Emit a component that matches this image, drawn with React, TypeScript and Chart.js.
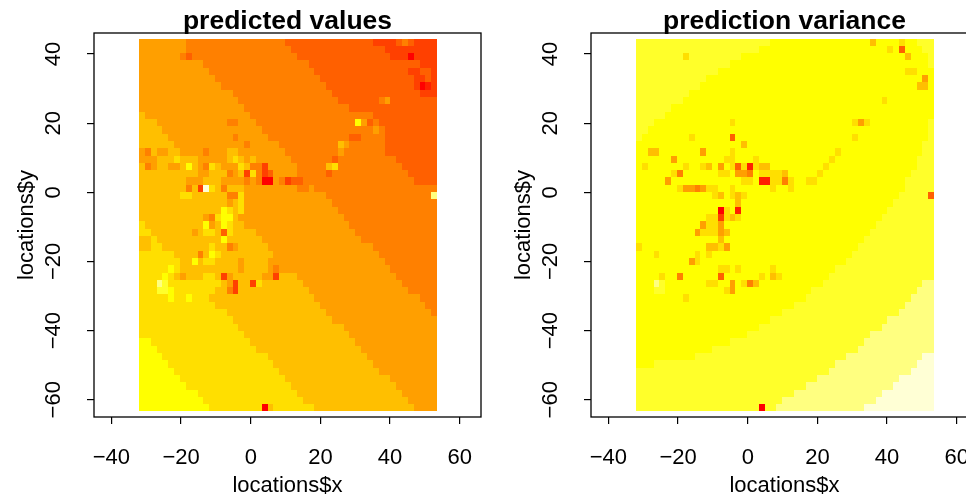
import React, { useEffect, useRef } from "react";
import { Chart, registerables } from "chart.js";

Chart.register(...registerables);

// R heat.colors(12): level index -> colour
const heatColors = ["#FF0000", "#FF2000", "#FF4000", "#FF6000", "#FF8000", "#FF9F00", "#FFBF00", "#FFDF00", "#FFFF00", "#FFFF2A", "#FFFF80", "#FFFFD5"];

// Grid of the kriging surface (51 x 51 cells)
const gridXMin = -32.06;
const gridXMax = 53.5;
const gridYMax = 44.5;
const gridYMin = -63.4;
const gridSize = 51;

const xTicks = [-40, -20, 0, 20, 40, 60];
const yTicks = [-60, -40, -20, 0, 20, 40];

// Each row runs from top to bottom; a token "L-C" = colour level L (hex) up to and including column C.
const predictedRows = [
  "5-7 4-24 3-39 2-43 3-44 4-45 3-46 2-50",
  "5-7 4-25 3-41 2-50",
  "5-6 4-7 3-8 4-26 3-42 2-45 0-46 2-50",
  "5-10 4-28 3-47 2-50",
  "5-11 4-29 3-45 2-47 3-49 2-50",
  "5-12 4-30 3-46 2-48 3-49 2-50",
  "5-13 4-31 3-46 2-47 0-48 1-49 2-50",
  "5-15 4-32 3-47 2-50",
  "5-16 4-33 3-40 4-41 5-42 3-50",
  "5-17 4-35 3-50",
  "6-0 5-18 4-39 3-50",
  "6-2 5-14 4-16 5-19 4-36 8-37 5-38 3-39 4-40 3-50",
  "6-3 5-20 4-39 5-40 4-41 3-50",
  "6-4 5-15 4-16 5-21 4-35 3-37 4-41 3-50",
  "6-5 5-17 4-18 5-23 4-33 6-34 5-35 4-41 3-50",
  "5-0 4-1 6-2 5-4 6-6 5-10 4-11 5-14 6-16 5-24 4-33 5-34 4-41 3-50",
  "5-2 6-5 7-6 6-9 5-14 6-15 7-16 6-17 5-18 6-19 5-25 4-32 3-33 4-43 3-50",
  "6-0 4-1 5-2 6-4 5-6 6-7 8-8 6-9 5-10 4-11 7-12 6-13 5-16 7-17 6-18 4-20 2-21 5-26 4-31 6-32 7-33 4-44 3-50",
  "6-9 5-11 6-14 4-15 5-16 6-17 2-18 7-19 4-20 2-21 3-22 5-26 4-31 3-32 4-45 3-50",
  "6-7 5-10 6-13 5-17 4-18 5-19 4-20 0-22 5-23 4-24 2-25 3-27 4-46 3-50",
  "6-7 4-8 6-9 2-10 b-11 7-12 6-13 4-14 6-17 5-26 4-28 5-29 4-50",
  "6-6 7-8 6-14 4-16 7-17 5-31 4-49 a-50",
  "6-14 5-15 6-16 7-17 5-32 4-50",
  "6-13 8-14 7-15 6-16 7-17 5-33 4-50",
  "6-10 5-11 4-12 7-13 8-15 6-16 5-34 4-50",
  "7-0 6-10 8-11 5-12 6-13 8-14 7-15 6-17 5-35 4-50",
  "7-1 6-8 5-9 6-10 7-12 6-13 3-14 7-15 6-19 5-36 4-50",
  "6-1 7-2 6-13 8-14 6-20 5-37 4-50",
  "6-1 7-3 6-11 7-12 6-14 4-15 5-16 6-21 5-39 4-50",
  "7-5 6-9 4-10 6-11 8-12 7-13 6-22 5-40 4-50",
  "7-6 6-8 8-9 6-10 7-12 6-16 5-17 6-21 5-41 4-50",
  "7-4 8-5 7-6 6-16 5-17 6-21 5-22 4-23 5-42 4-50",
  "7-3 8-4 7-5 6-6 5-7 6-10 7-12 6-13 2-14 5-15 6-20 5-22 2-23 6-26 5-43 4-50",
  "7-2 a-3 9-4 7-13 6-14 5-15 2-16 6-18 2-19 7-20 6-27 5-44 4-50",
  "7-2 9-4 8-5 7-12 6-14 4-15 2-16 6-28 5-45 4-50",
  "7-4 8-5 7-7 8-8 7-11 6-29 5-47 4-50",
  "7-12 6-30 5-48 4-50",
  "7-14 6-31 5-49 4-50",
  "7-15 6-32 5-50",
  "7-16 6-34 5-50",
  "7-17 6-35 5-50",
  "8-1 7-18 6-36 5-50",
  "8-2 7-19 6-37 5-50",
  "8-3 7-21 6-38 5-50",
  "8-4 7-22 6-39 5-50",
  "8-5 7-23 6-40 5-50",
  "8-6 7-24 6-42 5-50",
  "8-7 7-25 6-43 5-50",
  "8-9 7-26 6-44 5-50",
  "8-10 7-27 6-45 5-50",
  "8-11 7-20 0-21 6-22 7-29 6-46 5-50",
];

const varianceRows = [
  "9-22 8-39 6-40 8-44 7-45 8-47 9-50",
  "9-20 8-42 7-43 8-44 3-45 8-48 9-50",
  "9-7 7-8 9-17 8-45 6-46 8-49 9-50",
  "9-15 8-49 9-50",
  "9-13 8-45 7-47 8-50",
  "9-11 8-48 5-49 8-50",
  "9-10 8-47 6-49 8-50",
  "9-8 8-50",
  "9-7 8-41 7-42 8-50",
  "9-5 8-50",
  "9-4 8-50",
  "9-2 8-15 7-16 8-36 7-37 5-38 7-39 8-49 9-50",
  "9-1 8-49 9-50",
  "9-0 8-8 7-9 8-15 3-16 8-36 7-37 8-49 9-50",
  "8-17 6-18 8-48 9-50",
  "8-1 6-3 8-10 5-11 8-15 7-16 8-33 7-34 8-48 9-50",
  "8-5 5-6 8-14 7-16 8-19 7-20 8-32 7-33 8-47 9-50",
  "8-0 7-1 8-7 7-8 8-10 7-11 6-12 8-13 5-14 8-15 7-16 3-17 7-18 1-19 7-20 6-22 8-31 7-32 8-47 9-50",
  "8-5 7-6 4-7 8-13 7-15 8-16 5-18 4-19 8-20 7-24 6-25 8-30 7-31 8-46 9-50",
  "8-4 5-5 8-17 7-19 8-20 1-22 7-24 4-25 7-26 8-28 7-30 8-45 9-50",
  "8-6 7-7 5-9 4-10 5-11 7-13 8-15 7-16 8-22 7-23 8-25 7-26 8-45 9-50",
  "8-12 7-13 6-14 8-15 7-16 6-17 7-18 8-44 9-49 3-50",
  "8-16 6-17 8-43 9-50",
  "8-13 0-14 7-15 8-16 1-17 8-42 9-50",
  "8-11 7-13 2-14 7-15 6-16 7-17 8-41 9-50",
  "8-10 5-11 7-13 5-14 8-40 9-50",
  "8-9 5-10 7-13 5-14 6-15 8-39 9-50",
  "8-13 6-14 8-38 9-50",
  "7-0 8-11 6-13 7-14 5-15 8-37 9-50",
  "8-2 7-3 8-9 7-10 8-11 7-12 8-36 9-50",
  "8-8 5-9 7-10 8-35 9-50",
  "8-13 7-15 8-16 7-17 8-22 7-23 8-33 9-50",
  "8-3 7-4 8-6 4-7 8-13 3-14 8-20 7-21 8-22 6-23 7-24 8-32 9-50",
  "8-2 a-3 9-4 8-11 7-13 8-15 5-16 8-17 7-18 4-19 6-20 8-31 9-48 a-50",
  "8-2 9-4 8-14 7-15 5-16 8-29 9-47 a-50",
  "8-7 7-8 8-28 9-46 a-50",
  "8-26 9-45 a-50",
  "8-24 9-44 a-50",
  "8-22 9-42 a-50",
  "8-20 9-41 a-50",
  "8-18 9-39 a-50",
  "8-15 9-38 a-50",
  "8-12 9-37 a-50",
  "8-9 9-35 a-48 b-50",
  "8-2 9-33 a-47 b-50",
  "9-32 a-46 b-50",
  "9-30 a-44 b-50",
  "9-28 a-43 b-50",
  "9-26 a-41 b-50",
  "9-24 a-40 b-50",
  "9-20 0-21 9-23 a-38 b-50",
];

const FONT = "'Liberation Sans', Arial, sans-serif";
const cellW = (gridXMax - gridXMin) / gridSize;
const cellH = (gridYMax - gridYMin) / gridSize;

function rowsToCells(rows: string[]) {
  const cells: { x: number; y: number; level: number }[] = [];
  rows.forEach((row, r) => {
    let c = 0;
    row.split(" ").forEach((tok) => {
      const [lvl, end] = tok.split("-");
      for (; c <= Number(end); c++) {
        cells.push({
          x: gridXMin + (c + 0.5) * cellW,
          y: gridYMax - (r + 0.5) * cellH,
          level: parseInt(lvl, 16),
        });
      }
    });
  });
  return cells;
}

const cellPlugin = {
  id: "imageCells",
  beforeDatasetsDraw(chart: any) {
    const { ctx, scales } = chart;
    const { x: xs, y: ys } = scales;
    ctx.save();
    chart.data.datasets[0].data.forEach((p: any) => {
      const x0 = Math.round(xs.getPixelForValue(p.x - cellW / 2));
      const x1 = Math.round(xs.getPixelForValue(p.x + cellW / 2));
      const y0 = Math.round(ys.getPixelForValue(p.y + cellH / 2));
      const y1 = Math.round(ys.getPixelForValue(p.y - cellH / 2));
      ctx.fillStyle = heatColors[p.level];
      ctx.fillRect(x0, y0, x1 - x0, y1 - y0);
    });
    ctx.restore();
  },
  afterDraw(chart: any) {
    const { ctx, chartArea: a } = chart;
    ctx.save();
    ctx.strokeStyle = "#000";
    ctx.lineWidth = 1.3;
    ctx.strokeRect(a.left, a.top, a.right - a.left, a.bottom - a.top);
    ctx.restore();
  },
};

function Panel({ title, rows, left }: { title: string; rows: string[]; left: number }) {
  const ref = useRef<HTMLCanvasElement>(null);
  useEffect(() => {
    const tickCb = (v: any) => String(v).replace("-", "\u2212");
    const chart = new Chart(ref.current!, {
      type: "scatter",
      data: {
        datasets: [{ label: title, data: rowsToCells(rows) as any, pointRadius: 0, showLine: false }],
      },
      plugins: [cellPlugin],
      options: {
        responsive: false,
        animation: false,
        layout: { padding: { right: 16, left: 0, top: 0, bottom: 0 } },
        plugins: {
          legend: { display: false },
          tooltip: { enabled: false },
          title: {
            display: true,
            text: title,
            fullSize: false,
            color: "#000",
            font: { family: FONT, size: 26.5, weight: "bold" },
            padding: { top: 6, bottom: -4.8 },
          },
        },
        scales: {
          x: {
            type: "linear",
            min: -45,
            max: 66.1,
            afterBuildTicks: (s: any) => { s.ticks = xTicks.map((value) => ({ value })); },
            afterFit: (s: any) => { s.height = 82; },
            grid: { display: true, drawOnChartArea: false, drawTicks: true, tickLength: 7, color: "#000", lineWidth: 1.2 },
            border: { display: false },
            ticks: { callback: tickCb, color: "#000", font: { family: FONT, size: 22 }, maxRotation: 0, minRotation: 0, padding: 20.5, autoSkip: false },
            title: { display: true, text: "locations$x", color: "#000", font: { family: FONT, size: 22 }, padding: { top: 3, bottom: 0 } },
          },
          y: {
            type: "linear",
            min: -65,
            max: 46.1,
            afterBuildTicks: (s: any) => { s.ticks = yTicks.map((value) => ({ value })); },
            afterFit: (s: any) => { s.width = 94; },
            grid: { display: true, drawOnChartArea: false, drawTicks: true, tickLength: 7, color: "#000", lineWidth: 1.2 },
            border: { display: false },
            ticks: { callback: tickCb, color: "#000", font: { family: FONT, size: 22 }, maxRotation: 90, minRotation: 90, padding: 14, autoSkip: false, crossAlign: "center" },
            title: { display: true, text: "locations$y", color: "#000", font: { family: FONT, size: 22 }, padding: { top: 14, bottom: 0 } },
          },
        },
      },
    });
    return () => chart.destroy();
  }, []);
  return <canvas ref={ref} width={497} height={499} style={{ position: "absolute", left, top: 0, width: 497, height: 499 }} />;
}

export default function App() {
  return (
    <div style={{ position: "fixed", left: 0, top: 0, width: 966, height: 499, overflow: "hidden", background: "#fff" }}>
      <Panel title="predicted values" rows={predictedRows} left={0} />
      <Panel title="prediction variance" rows={varianceRows} left={497} />
    </div>
  );
}
